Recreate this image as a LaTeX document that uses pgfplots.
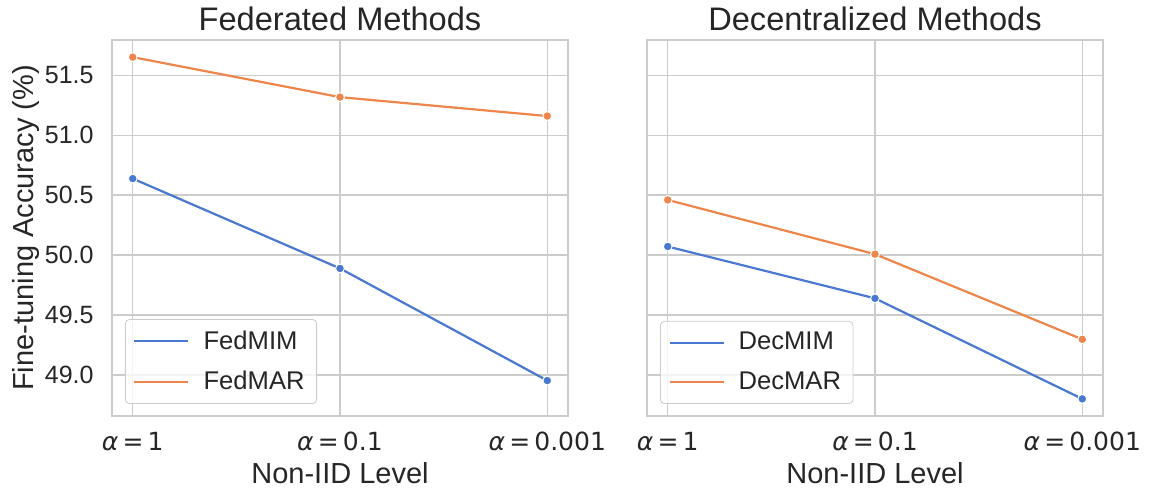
\documentclass[border=0pt]{standalone}
\usepackage{pgfplots}
\pgfplotsset{compat=1.18}
\usepackage{fontspec}
\setmainfont{Liberation Sans}
\newfontfamily\dv{DejaVu Sans}
\definecolor{sbblue}{HTML}{4878D0}
\definecolor{sborange}{HTML}{EE854A}
\definecolor{gridc}{HTML}{CCCCCC}
\definecolor{txt}{HTML}{262626}
\pgfplotsset{
  sb/.style={
    scale only axis, width=228pt, height=188pt,
    xmin=-0.1, xmax=2.1, ymin=48.657, ymax=51.796,
    xtick={0,1,2},
    xticklabels={{{\dv\textit{α}\,=\,1}},{{\dv\textit{α}\,=\,0.1}},{{\dv\textit{α}\,=\,0.001}}},
    ytick={49,49.5,50,50.5,51,51.5},
    grid=major, major grid style={draw=gridc, line width=0.75pt},
    axis line style={draw=gridc, line width=0.75pt},
    tick style={draw=none},
    every tick label/.append style={text=txt},
    xticklabel style={font=\fontsize{12.5}{14}\selectfont, anchor=base, inner sep=0pt, yshift=-17pt},
    yticklabel style={font=\fontsize{12.5}{14}\selectfont, anchor=east, inner sep=0pt, xshift=-9pt},
    xlabel={Non-IID Level},
    xlabel style={font=\fontsize{14.5}{16}\selectfont, text=txt, at={(axis description cs:0.5,0)}, anchor=base, yshift=-33.5pt},
    every axis title shift=0pt,
    title style={font=\fontsize{16.3}{18}\selectfont, text=txt, at={(axis description cs:0.5,1)}, anchor=base, yshift=5pt},
    legend cell align=left,
    legend style={at={(axis description cs:0.0285,0.032)}, anchor=south west,
      draw=gridc, rounded corners=2pt, fill=white, fill opacity=0.8, text opacity=1,
      font=\fontsize{12.8}{14}\selectfont, text=txt, row sep=5.5pt, inner xsep=4pt, inner ysep=3.5pt,
      /tikz/every odd column/.append style={column sep=5pt},
      /tikz/every even column/.append style={column sep=4pt}},
    legend image code/.code={\draw[#1, mark=none, line width=1.1pt] (0pt,0pt) -- (27pt,0pt);},
    every axis plot/.append style={line width=1.1pt, mark=*, mark size=2.2pt},
  }
}
\begin{document}
\begin{tikzpicture}
\path[use as bounding box] (0,0) rectangle (575pt,246pt);
\begin{axis}[sb, at={(56pt,38pt)}, anchor=south west,
  title={Federated Methods},
  yticklabels={49.0,49.5,50.0,50.5,51.0,51.5},
  ylabel={Fine-tuning Accuracy (\%)},
  ylabel style={font=\fontsize{14.5}{16}\selectfont, text=txt, at={(axis description cs:-0.1732,0.5)}, anchor=base},
]
\addplot[color=sbblue, mark options={fill=sbblue, draw=white, line width=0.5pt}] coordinates {(0,50.639) (1,49.889) (2,48.953)};
\addlegendentry{FedMIM}
\addplot[color=sborange, mark options={fill=sborange, draw=white, line width=0.5pt}] coordinates {(0,51.653) (1,51.319) (2,51.161)};
\addlegendentry{FedMAR}
\end{axis}
\begin{axis}[sb, at={(323.5pt,38pt)}, anchor=south west,
  title={Decentralized Methods},
  yticklabels={},
]
\addplot[color=sbblue, mark options={fill=sbblue, draw=white, line width=0.5pt}] coordinates {(0,50.072) (1,49.639) (2,48.800)};
\addlegendentry{DecMIM}
\addplot[color=sborange, mark options={fill=sborange, draw=white, line width=0.5pt}] coordinates {(0,50.461) (1,50.008) (2,49.297)};
\addlegendentry{DecMAR}
\end{axis}
\end{tikzpicture}
\end{document}
